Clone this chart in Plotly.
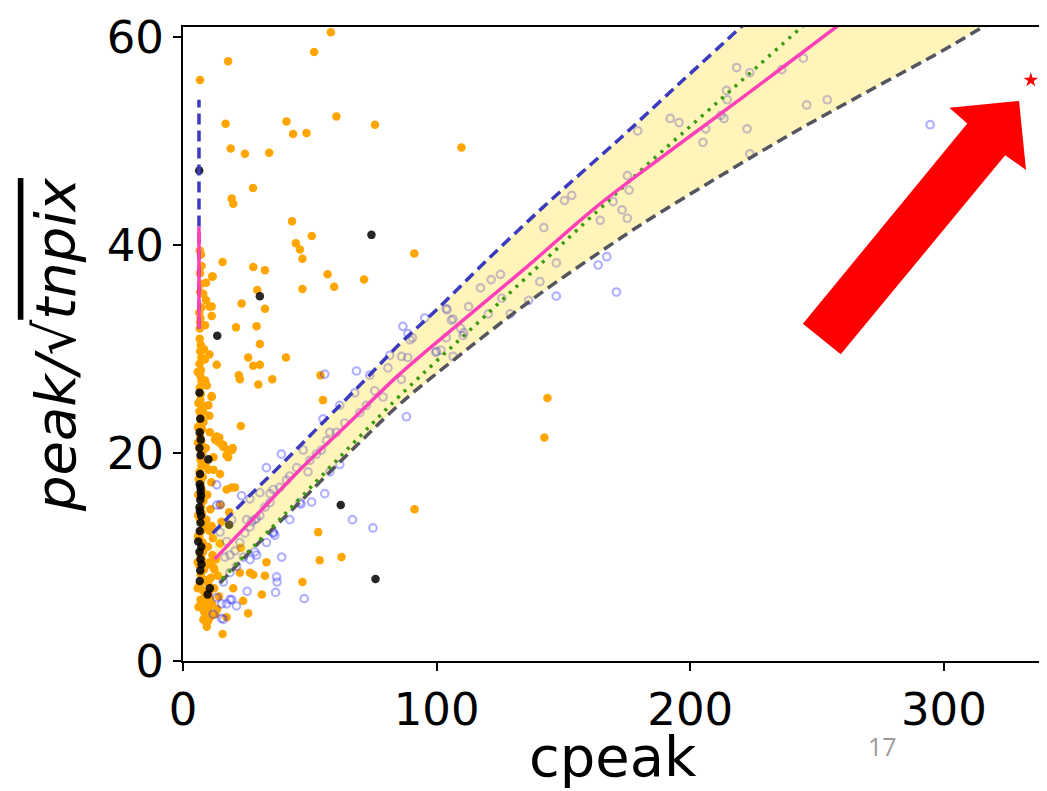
import plotly.graph_objects as go

# ---------------- data ----------------
# orange: filled points (scattered + dense column near cpeak ~ 7)
orange_cpeak = [
    58.3, 51.7, 17.8, 6.7, 16.8, 40.8, 43.4, 48.7, 60.5, 75.7, 18.8, 24.4, 34.0, 109.8,
    27.6, 19.2, 19.8, 43.0, 50.8, 44.5, 46.1, 47.1, 91.2, 15.6, 27.7, 32.3, 11.7, 57.0,
    59.6, 71.4, 47.1, 29.3, 23.1, 32.3, 29.0, 20.9, 30.3, 25.7, 27.7, 30.3, 40.6, 22.0,
    22.4, 29.7, 35.2, 54.2, 13.3, 55.2, 22.8, 13.3, 15.9, 17.8, 19.4, 91.3, 53.3, 53.9,
    62.5, 32.9, 47.1, 26.4, 31.1, 25.7, 15.6, 143.7, 142.5,
    27.7, 32.3, 22.8, 22.4, 23.7, 19.8, 17.2, 18.2, 20.5, 19.2, 17.2, 14.8, 11.3, 12.6,
    13.9, 14.9, 17.2, 17.8, 12.0, 14.6, 15.2, 14.6,
    7.1, 6.7, 7.1, 9.1, 11.5, 8.0, 9.1, 10.4, 11.3, 11.3, 6.4, 6.7, 8.7, 10.4, 11.3,
    10.0, 10.4, 14.3, 15.9, 19.6,
    6.6, 7.0, 6.8, 7.2, 6.5, 7.1, 6.9, 7.3, 6.6, 7.0, 6.8, 7.4, 6.5, 7.1, 6.9, 7.5,
    6.7, 7.2, 6.6, 7.6, 6.9, 7.3, 6.5, 7.8, 7.0, 7.4, 6.6, 8.0, 7.1, 7.5, 6.7, 8.2,
    7.2, 6.4, 7.7, 8.5, 6.8, 7.4, 6.2, 8.3, 7.0, 9.0, 6.5, 7.8, 8.8, 6.9, 9.5, 7.5,
    8.4, 9.2, 10.0, 8.0, 9.3,
    10.5, 11.0, 10.2, 11.5, 12.3, 12.0, 9.8, 10.5, 11.8, 9.2, 10.8, 9.6, 11.2, 10.0,
    12.0, 9.0, 10.6, 13.5, 12.8, 14.2, 11.0, 13.0, 13.8,
    6.6, 6.9, 7.2, 6.8, 7.3, 6.6, 5.9, 5.8, 6.0, 5.9, 8.6, 9.4, 8.1, 7.9, 8.9,
    5.8, 6.1, 5.9, 6.2, 6.0, 5.8, 6.1, 8.3, 8.7, 8.1, 8.9, 8.4, 7.9, 8.6,
    9.9, 10.7, 11.6, 12.4, 9.4, 10.1, 11.3, 8.9,
]
orange_peak = [
    60.5, 58.6, 57.7, 55.9, 51.7, 51.9, 50.7, 50.8, 52.4, 51.6, 49.3, 48.8, 48.9, 49.4,
    45.5, 44.5, 44.0, 42.3, 40.9, 40.2, 39.6, 38.7, 39.2, 38.4, 37.9, 37.6, 37.0, 37.2,
    36.0, 36.7, 35.8, 35.7, 34.4, 33.9, 32.2, 32.1, 30.5, 29.2, 28.4, 28.5, 29.2, 27.5,
    27.1, 26.6, 27.1, 27.5, 28.5, 25.1, 22.6, 21.6, 20.8, 20.3, 20.3, 14.6, 12.4, 9.7,
    10.0, 9.5, 7.6, 8.5, 6.4, 4.6, 2.6, 25.3, 21.5,
    8.3, 8.2, 10.9, 8.5, 5.8, 7.0, 4.2, 14.3, 16.7, 16.7, 16.5, 15.0, 25.4, 21.3,
    21.1, 20.9, 19.8, 19.6, 18.4, 18.0, 13.4, 11.3,
    39.1, 37.3, 36.3, 36.4, 37.0, 35.3, 34.7, 34.1, 34.1, 33.2, 33.5, 32.6, 32.3, 29.5,
    25.5, 24.6, 23.6, 21.5, 20.6, 20.5,
    31.0, 30.4, 29.8, 29.2, 28.6, 28.0, 27.4, 26.9, 26.3, 25.7, 25.1, 24.6, 24.0, 23.4,
    22.8, 22.3, 21.7, 21.1, 20.5, 20.0, 19.4, 18.8, 18.2, 17.7, 17.1, 16.5, 15.9, 15.4,
    14.8, 14.2, 13.6, 13.1, 12.5, 11.9, 11.4, 10.9, 10.3, 9.8, 9.3, 8.8, 8.3, 7.8,
    7.3, 6.8, 6.3, 5.9, 5.5, 5.1, 4.7, 4.3, 3.9, 4.0, 3.6,
    9.5, 8.0, 6.5, 5.5, 7.0, 9.0, 11.0, 12.5, 11.8, 13.6, 14.6, 16.0, 17.2, 18.4,
    19.6, 20.5, 22.0, 5.0, 4.5, 6.2, 4.3, 9.8, 8.2,
    32.0, 33.0, 34.0, 35.5, 38.0, 39.5, 12.0, 7.0, 16.0, 22.5, 29.0, 26.5, 19.0, 24.0, 12.8,
    27.8, 24.8, 21.0, 17.5, 14.0, 9.5, 5.2, 30.0, 27.0, 23.0, 18.8, 15.8, 10.5, 6.0,
    7.5, 6.0, 10.2, 8.8, 3.3, 5.0, 13.0, 9.2,
]

# black: filled points
black_cpeak = [6.4, 74.3, 30.3, 13.5, 10.0, 62.2, 75.9, 9.7, 6.5, 6.8, 6.6, 7.0, 6.5,
               6.9, 6.7, 6.6, 7.0, 6.8, 6.5, 7.1, 6.9, 6.6, 6.0, 7.2, 6.5, 6.9, 7.3,
               6.8, 6.6, 10.6, 18.2, 6.9, 7.1, 6.7]
black_peak = [47.2, 41.0, 35.1, 31.3, 19.4, 15.0, 7.9, 6.4, 25.8, 23.3, 22.0, 21.3, 20.5,
              19.8, 18.0, 17.0, 16.3, 15.5, 14.8, 14.0, 13.3, 12.5, 11.5, 11.0, 10.5,
              9.8, 9.3, 8.7, 7.7, 7.0, 13.1, 16.7, 15.9, 14.4]

# blue: open circles
blue_cpeak = [
    89.5, 86.2, 88.6, 99.7, 101.7, 106.5, 106.5, 104.1, 109.5, 110.7, 112.6, 117.3, 120.4,
    121.5, 125.2, 125.7, 129.0, 136.3, 140.7, 147.2, 142.3, 150.4, 153.3, 164.5, 169.6,
    173.1, 175.2, 175.9, 175.2, 179.3, 192.1, 195.6, 205.0, 206.1, 212.1, 213.3, 214.3,
    214.6, 218.3, 222.4, 223.5, 223.5, 236.1, 244.6, 245.9, 254.0,
    163.7, 167.1, 147.2, 170.9, 294.6, 86.1, 88.1, 103.8, 55.9,
    66.8, 74.9, 47.8, 36.9, 37.1, 25.3, 21.1, 19.2, 17.2, 15.2, 15.9, 38.9, 42.1, 46.1,
    50.7, 55.9, 61.8, 23.1, 26.4, 30.3, 34.3, 35.6, 32.9, 29.0, 13.3, 14.6, 19.2, 46.5,
    36.5, 28.3, 25.1, 27.0, 29.0, 35.6, 36.2, 18.5, 13.3, 11.9, 15.2, 14.6, 17.2, 13.3,
    86.7, 88.7, 90.4, 99.9, 103.8, 105.8, 81.5, 80.8, 73.6, 75.6, 78.9, 72.3, 69.7, 67.7,
    63.8, 60.5, 57.9, 56.6, 54.6, 52.6, 50.0, 47.4, 49.3, 44.8, 42.1, 40.8, 38.2, 35.6,
    34.3, 32.3, 30.3, 28.3, 26.4, 24.4, 22.4, 20.5, 18.5, 16.5, 23.8, 26.4, 21.1, 18.5,
    15.9, 38.8, 32.9, 55.2, 61.8, 68.4, 95.3, 110.4, 57.9,
]
blue_peak = [
    30.9, 29.3, 29.2, 29.7, 29.9, 29.3, 32.9, 33.8, 32.0, 31.6, 34.1, 35.9, 33.4,
    36.7, 37.2, 34.9, 33.4, 34.7, 36.5, 38.3, 41.7, 44.3, 44.8, 42.4, 44.2,
    43.4, 42.6, 45.3, 46.7, 51.0, 52.2, 51.8, 49.9, 51.2, 52.5, 52.2, 54.9,
    54.0, 57.1, 51.2, 48.8, 56.6, 56.9, 58.0, 53.5, 54.0,
    38.1, 38.9, 35.1, 35.5, 51.6, 27.1, 23.5, 31.1, 27.6,
    13.6, 12.8, 6.0, 8.1, 7.6, 6.7, 5.3, 5.9, 5.5, 5.5, 4.0, 10.0, 13.6, 15.25,
    15.3, 16.1, 18.9, 15.9, 15.6, 16.2, 15.25, 12.3, 11.4, 10.2, 16.95, 15.05, 13.6, 15.1,
    6.6, 10.5, 13.6, 13.4, 13.7, 12.4, 12.1, 5.9, 6.1, 4.5, 4.1, 12.4, 11.5, 15.0,
    32.2, 31.5, 31.1, 29.8, 33.9, 32.8, 29.4, 28.2, 27.5, 26.0, 25.4, 24.6, 23.9, 25.8,
    22.9, 22.0, 22.0, 21.2, 20.3, 19.9, 19.3, 20.3, 18.2, 18.6, 17.8, 17.4, 16.7, 16.5,
    16.1, 14.8, 14.0, 13.6, 12.9, 12.3, 11.4, 10.6, 10.2, 10.0, 10.0, 9.75, 9.1, 8.5,
    7.6, 19.9, 18.6, 23.3, 24.6, 27.9, 33.0, 31.3, 18.2,
]

# red star
star_cpeak = [334.3]
star_peak = [55.9]

# curves
upper_x = [11.7, 25, 40, 55, 70.4, 85, 100, 120, 141.7, 160, 172, 195, 219.3, 226]
upper_y = [12.3, 15.6, 19.2, 22.9, 26.7, 30.4, 33.8, 38.6, 43.6, 47.6, 50.2, 55.4, 60.85, 62.4]
pink_x = [12.5, 25, 46.1, 65, 85.4, 110, 135, 163, 190, 220, 256.7, 262]
pink_y = [9.8, 13.0, 18.4, 22.8, 27.6, 32.7, 37.8, 43.7, 48.7, 54.1, 60.85, 61.8]
green_x = [15.4, 40, 69.7, 85.4, 120, 163, 181.9, 210, 243.7, 250]
green_y = [7.9, 14.1, 21.6, 25.5, 33.4, 43.2, 47.5, 53.6, 60.95, 62.3]
lower_x = [14.6, 30, 46.1, 65, 85.4, 110, 140, 172, 183.9, 210, 239, 270, 300.8, 315, 325]
lower_y = [7.5, 11.4, 15.3, 19.9, 24.7, 29.6, 35.2, 40.6, 42.5, 46.4, 50.6, 54.8, 58.9, 60.95, 62.3]
vert_x = 6.3
upper_vert_y = [32.0, 54.0]
pink_vert_y = [32.0, 41.8]

x_ticks = [0, 100, 200, 300]
y_ticks = [0, 20, 40, 60]

# big red arrow (decoration, in plot-area fractions)
arrow_pts = [(0.7216, 0.5319), (0.9130, 0.8476), (0.8921, 0.8725), (0.9733, 0.8834),
             (0.9814, 0.7745), (0.9571, 0.7978), (0.7657, 0.4837)]

# ---------------- figure ----------------
fig = go.Figure()

fig.add_trace(go.Scatter(x=orange_cpeak, y=orange_peak, mode="markers",
                         marker=dict(color="#ffa500", size=8.5, line=dict(width=0)),
                         hoverinfo="skip", showlegend=False))
fig.add_trace(go.Scatter(x=black_cpeak, y=black_peak, mode="markers",
                         marker=dict(color="rgba(0,0,0,0.85)", size=8.5, line=dict(width=0)),
                         hoverinfo="skip", showlegend=False))
fig.add_trace(go.Scatter(x=blue_cpeak, y=blue_peak, mode="markers",
                         marker=dict(symbol="circle-open", color="rgba(40,40,255,0.36)", size=7.5,
                                     line=dict(width=2.2)),
                         hoverinfo="skip", showlegend=False))

# yellow band between upper and lower curve
fig.add_trace(go.Scatter(x=upper_x + lower_x[::-1], y=upper_y + lower_y[::-1],
                         mode="lines", fill="toself", fillcolor="rgba(255,215,0,0.27)",
                         line=dict(width=0), hoverinfo="skip", showlegend=False))

fig.add_trace(go.Scatter(x=[vert_x, vert_x], y=upper_vert_y, mode="lines",
                         line=dict(color="#3a3ac0", width=3.5, dash="11px,6px"), showlegend=False))
fig.add_trace(go.Scatter(x=[vert_x, vert_x], y=pink_vert_y, mode="lines",
                         line=dict(color="#ff40b8", width=3.5), showlegend=False))

fig.add_trace(go.Scatter(x=lower_x, y=lower_y, mode="lines", line_shape="spline",
                         line=dict(color="#555560", width=3.5, dash="11px,6px"), showlegend=False))
fig.add_trace(go.Scatter(x=green_x, y=green_y, mode="lines", line_shape="spline",
                         line=dict(color="#3a9a10", width=3.5, dash="3px,6px"), showlegend=False))
fig.add_trace(go.Scatter(x=pink_x, y=pink_y, mode="lines", line_shape="spline",
                         line=dict(color="#ff40b8", width=3.5), showlegend=False))
fig.add_trace(go.Scatter(x=upper_x, y=upper_y, mode="lines", line_shape="spline",
                         line=dict(color="#3a3ac0", width=3.5, dash="11px,6px"), showlegend=False))

fig.add_trace(go.Scatter(x=star_cpeak, y=star_peak, mode="markers",
                         marker=dict(symbol="star", color="red", size=11, line=dict(width=0)),
                         showlegend=False))

path = "M " + " L ".join(f"{x},{y}" for x, y in arrow_pts) + " Z"
fig.add_shape(type="path", path=path, xref="paper", yref="paper",
              fillcolor="#ff0000", line=dict(width=0), layer="above")

axis_common = dict(showline=True, mirror=True, linecolor="black", linewidth=2,
                   ticks="outside", ticklen=8, tickwidth=1.5, tickcolor="black",
                   showgrid=False, zeroline=False, ticklabeloverflow="allow",
                   tickfont=dict(family="DejaVu Sans", size=45, color="black"))

fig.update_xaxes(range=[0, 338.7], tickvals=x_ticks, ticktext=[str(v) for v in x_ticks],
                 **axis_common)
fig.update_yaxes(range=[0, 61.0], tickvals=y_ticks, ticktext=[str(v) for v in y_ticks],
                 **axis_common)

fig.add_annotation(text="cpeak", xref="paper", yref="paper", x=0.5, y=-0.150,
                   showarrow=False, xanchor="center", yanchor="middle",
                   font=dict(family="DejaVu Sans", size=56, color="black"))
fig.add_annotation(text="<i>peak/</i>√<span style='text-decoration:overline'><i>tnpix</i></span>",
                   xref="paper", yref="paper", x=-0.1485, y=0.499, textangle=-90,
                   showarrow=False, xanchor="center", yanchor="middle",
                   font=dict(family="DejaVu Sans", size=56, color="black"))
fig.add_annotation(text="17", xref="paper", yref="paper", x=0.8144, y=-0.1337,
                   showarrow=False, xanchor="center", yanchor="middle",
                   font=dict(family="Open Sans", size=25, color="#9a9a9a"))

# the page adds an 8px body margin, so the figure is 8px smaller and the
# left/top margins 8px narrower to keep the plot area where the reference has it
fig.update_layout(width=1039, height=783,
                  margin=dict(l=175, r=3, t=10, b=130, pad=0),
                  paper_bgcolor="white", plot_bgcolor="white")

fig.write_html("out.html")
